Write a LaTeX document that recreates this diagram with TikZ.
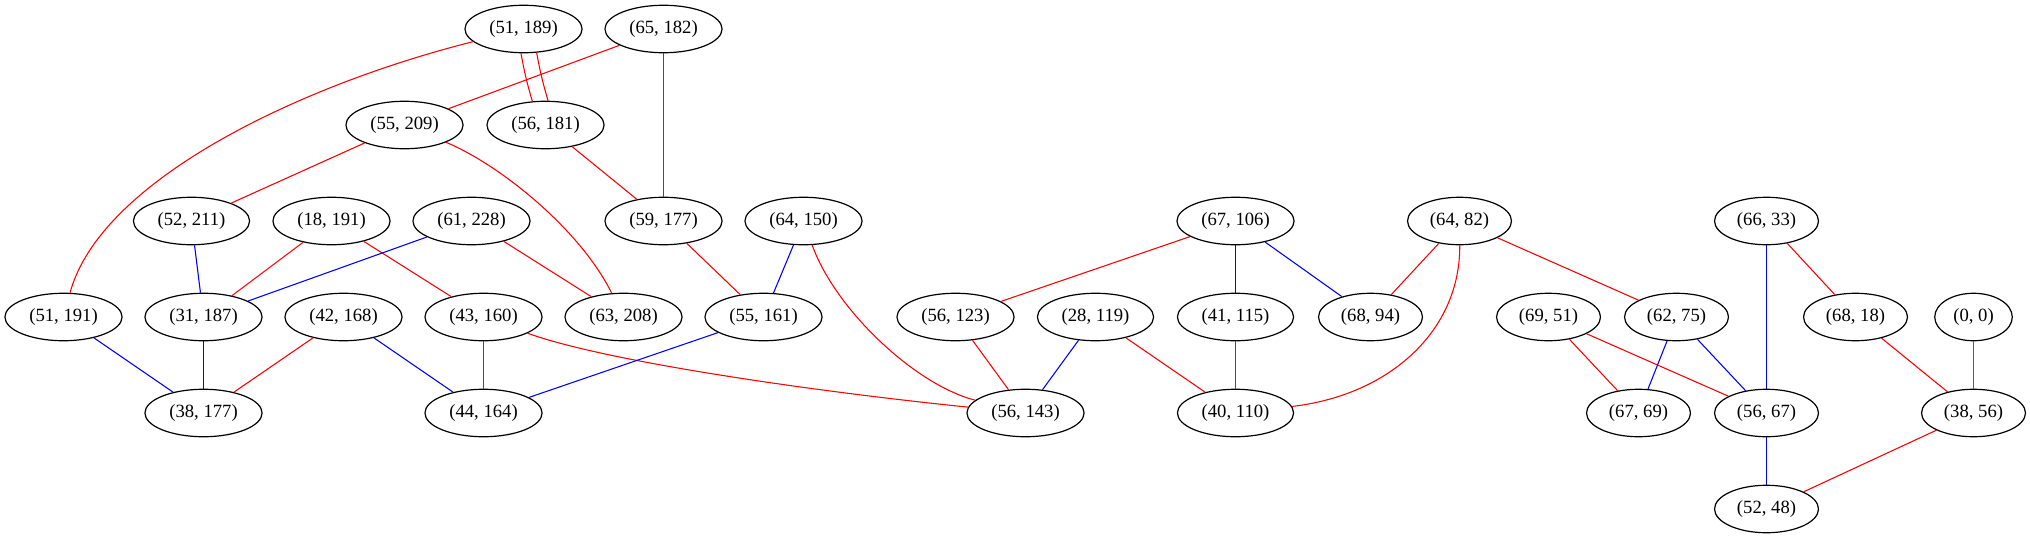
\documentclass[tikz,border=0pt]{standalone}
\usepackage{fontspec}
\setmainfont{Liberation Serif}
\usetikzlibrary{shapes.geometric}
\definecolor{gvred}{HTML}{FF0000}
\definecolor{gvblue}{HTML}{0000FF}
\definecolor{gvpurple}{HTML}{A020F0}
\tikzset{
  vertex/.style={ellipse, draw=black, line width=0.9pt, fill=white,
    font=\fontsize{14}{16}\selectfont, inner xsep=5.4pt, inner ysep=0pt,
    minimum height=35.6pt},
  redge/.style={draw=gvred, line width=0.8pt},
  bedge/.style={draw=gvblue, line width=0.8pt},
  pedge/.style={draw=gvpurple, line width=0.8pt}
}
\begin{document}
\begin{tikzpicture}[x=0.75pt, y=-0.75pt]
\useasboundingbox (0,0) rectangle (2030,539);
\begin{scope}[xshift=0.375pt]
% row 0
\node[vertex] (n51a) at (523,29) {(51, 189)};
\node[vertex] (n65) at (663,29) {(65, 182)};
% row 1
\node[vertex] (n55a) at (404,125) {(55, 209)};
\node[vertex] (n56a) at (545,125) {(56, 181)};
% row 2
\node[vertex] (n52a) at (191,221) {(52, 211)};
\node[vertex] (n18) at (331,221) {(18, 191)};
\node[vertex] (n61) at (471,221) {(61, 228)};
\node[vertex] (n59) at (663,221) {(59, 177)};
\node[vertex] (n64a) at (803,221) {(64, 150)};
\node[vertex] (n67a) at (1235,221) {(67, 106)};
\node[vertex] (n64b) at (1459,221) {(64, 82)};
\node[vertex] (n66) at (1766,221) {(66, 33)};
% row 3
\node[vertex] (n51b) at (63,317) {(51, 191)};
\node[vertex] (n31) at (203,317) {(31, 187)};
\node[vertex] (n42) at (343,317) {(42, 168)};
\node[vertex] (n43) at (483,317) {(43, 160)};
\node[vertex] (n63) at (623,317) {(63, 208)};
\node[vertex] (n55b) at (763,317) {(55, 161)};
\node[vertex] (n56b) at (955,317) {(56, 123)};
\node[vertex] (n28) at (1095,317) {(28, 119)};
\node[vertex] (n41) at (1235,317) {(41, 115)};
\node[vertex] (n68a) at (1370,317) {(68, 94)};
\node[vertex] (n69) at (1548,317) {(69, 51)};
\node[vertex] (n62) at (1676,317) {(62, 75)};
\node[vertex] (n68b) at (1855,317) {(68, 18)};
\node[vertex] (n00) at (1973,317) {(0, 0)};
% row 4
\node[vertex] (n38a) at (203,413) {(38, 177)};
\node[vertex] (n44) at (483,413) {(44, 164)};
\node[vertex] (n56c) at (1025,413) {(56, 143)};
\node[vertex] (n40) at (1235,413) {(40, 110)};
\node[vertex] (n67b) at (1638,413) {(67, 69)};
\node[vertex] (n56d) at (1766,413) {(56, 67)};
\node[vertex] (n38b) at (1973,413) {(38, 56)};
% row 5
\node[vertex] (n52b) at (1766,509) {(52, 48)};

% red edges
\draw[redge] (n51a) .. controls (300,85) and (100,180) .. (n51b);
\draw[redge] (n51a.-96) to[bend right=3] (n56a.119);
\draw[redge] (n51a.-61) to[bend right=3] (n56a.84);
\draw[redge] (n65) -- (n55a);
\draw[redge] (n65) -- (n59);
\draw[redge] (n55a) -- (n52a);
\draw[redge] (n55a) .. controls (500,165) and (580,230) .. (n63);
\draw[redge] (n56a) -- (n59);
\draw[redge] (n18) -- (n31);
\draw[redge] (n18) -- (n43);
\draw[redge] (n61) -- (n63);
\draw[redge] (n59) -- (n55b);
\draw[redge] (n64a) .. controls (835,310) and (915,385) .. (n56c);
\draw[redge] (n42) -- (n38a);
\draw[redge] (n43) -- (n44);
\draw[redge] (n43) .. controls (600,360) and (800,390) .. (n56c);
\draw[redge] (n67a) -- (n56b);
\draw[redge] (n56b) -- (n56c);
\draw[redge] (n28) -- (n40);
\draw[redge] (n41) -- (n40);
\draw[redge] (n64b) -- (n68a);
\draw[redge] (n64b) .. controls (1460,330) and (1390,395) .. (n40);
\draw[redge] (n64b) -- (n62);
\draw[redge] (n66) -- (n68b);
\draw[redge] (n69) -- (n67b);
\draw[redge] (n69) -- (n56d);
\draw[redge] (n68b) -- (n38b);
\draw[redge] (n38b) -- (n52b);
% blue edges
\draw[bedge] (n52a) -- (n31);
\draw[bedge] (n61) -- (n31);
\draw[bedge] (n31) -- (n38a);
\draw[bedge] (n51b) -- (n38a);
\draw[bedge] (n42) -- (n44);
\draw[bedge] (n55b) -- (n44);
\draw[bedge] (n64a) -- (n55b);
\draw[bedge] (n67a) -- (n41);
\draw[bedge] (n67a) -- (n68a);
\draw[bedge] (n28) -- (n56c);
\draw[bedge] (n62) -- (n67b);
\draw[bedge] (n62) -- (n56d);
\draw[bedge] (n66) -- (n56d);
\draw[bedge] (n56d) -- (n52b);
% purple edge
\draw[pedge] (n00) -- (n38b);
\end{scope}
\end{tikzpicture}
\end{document}
